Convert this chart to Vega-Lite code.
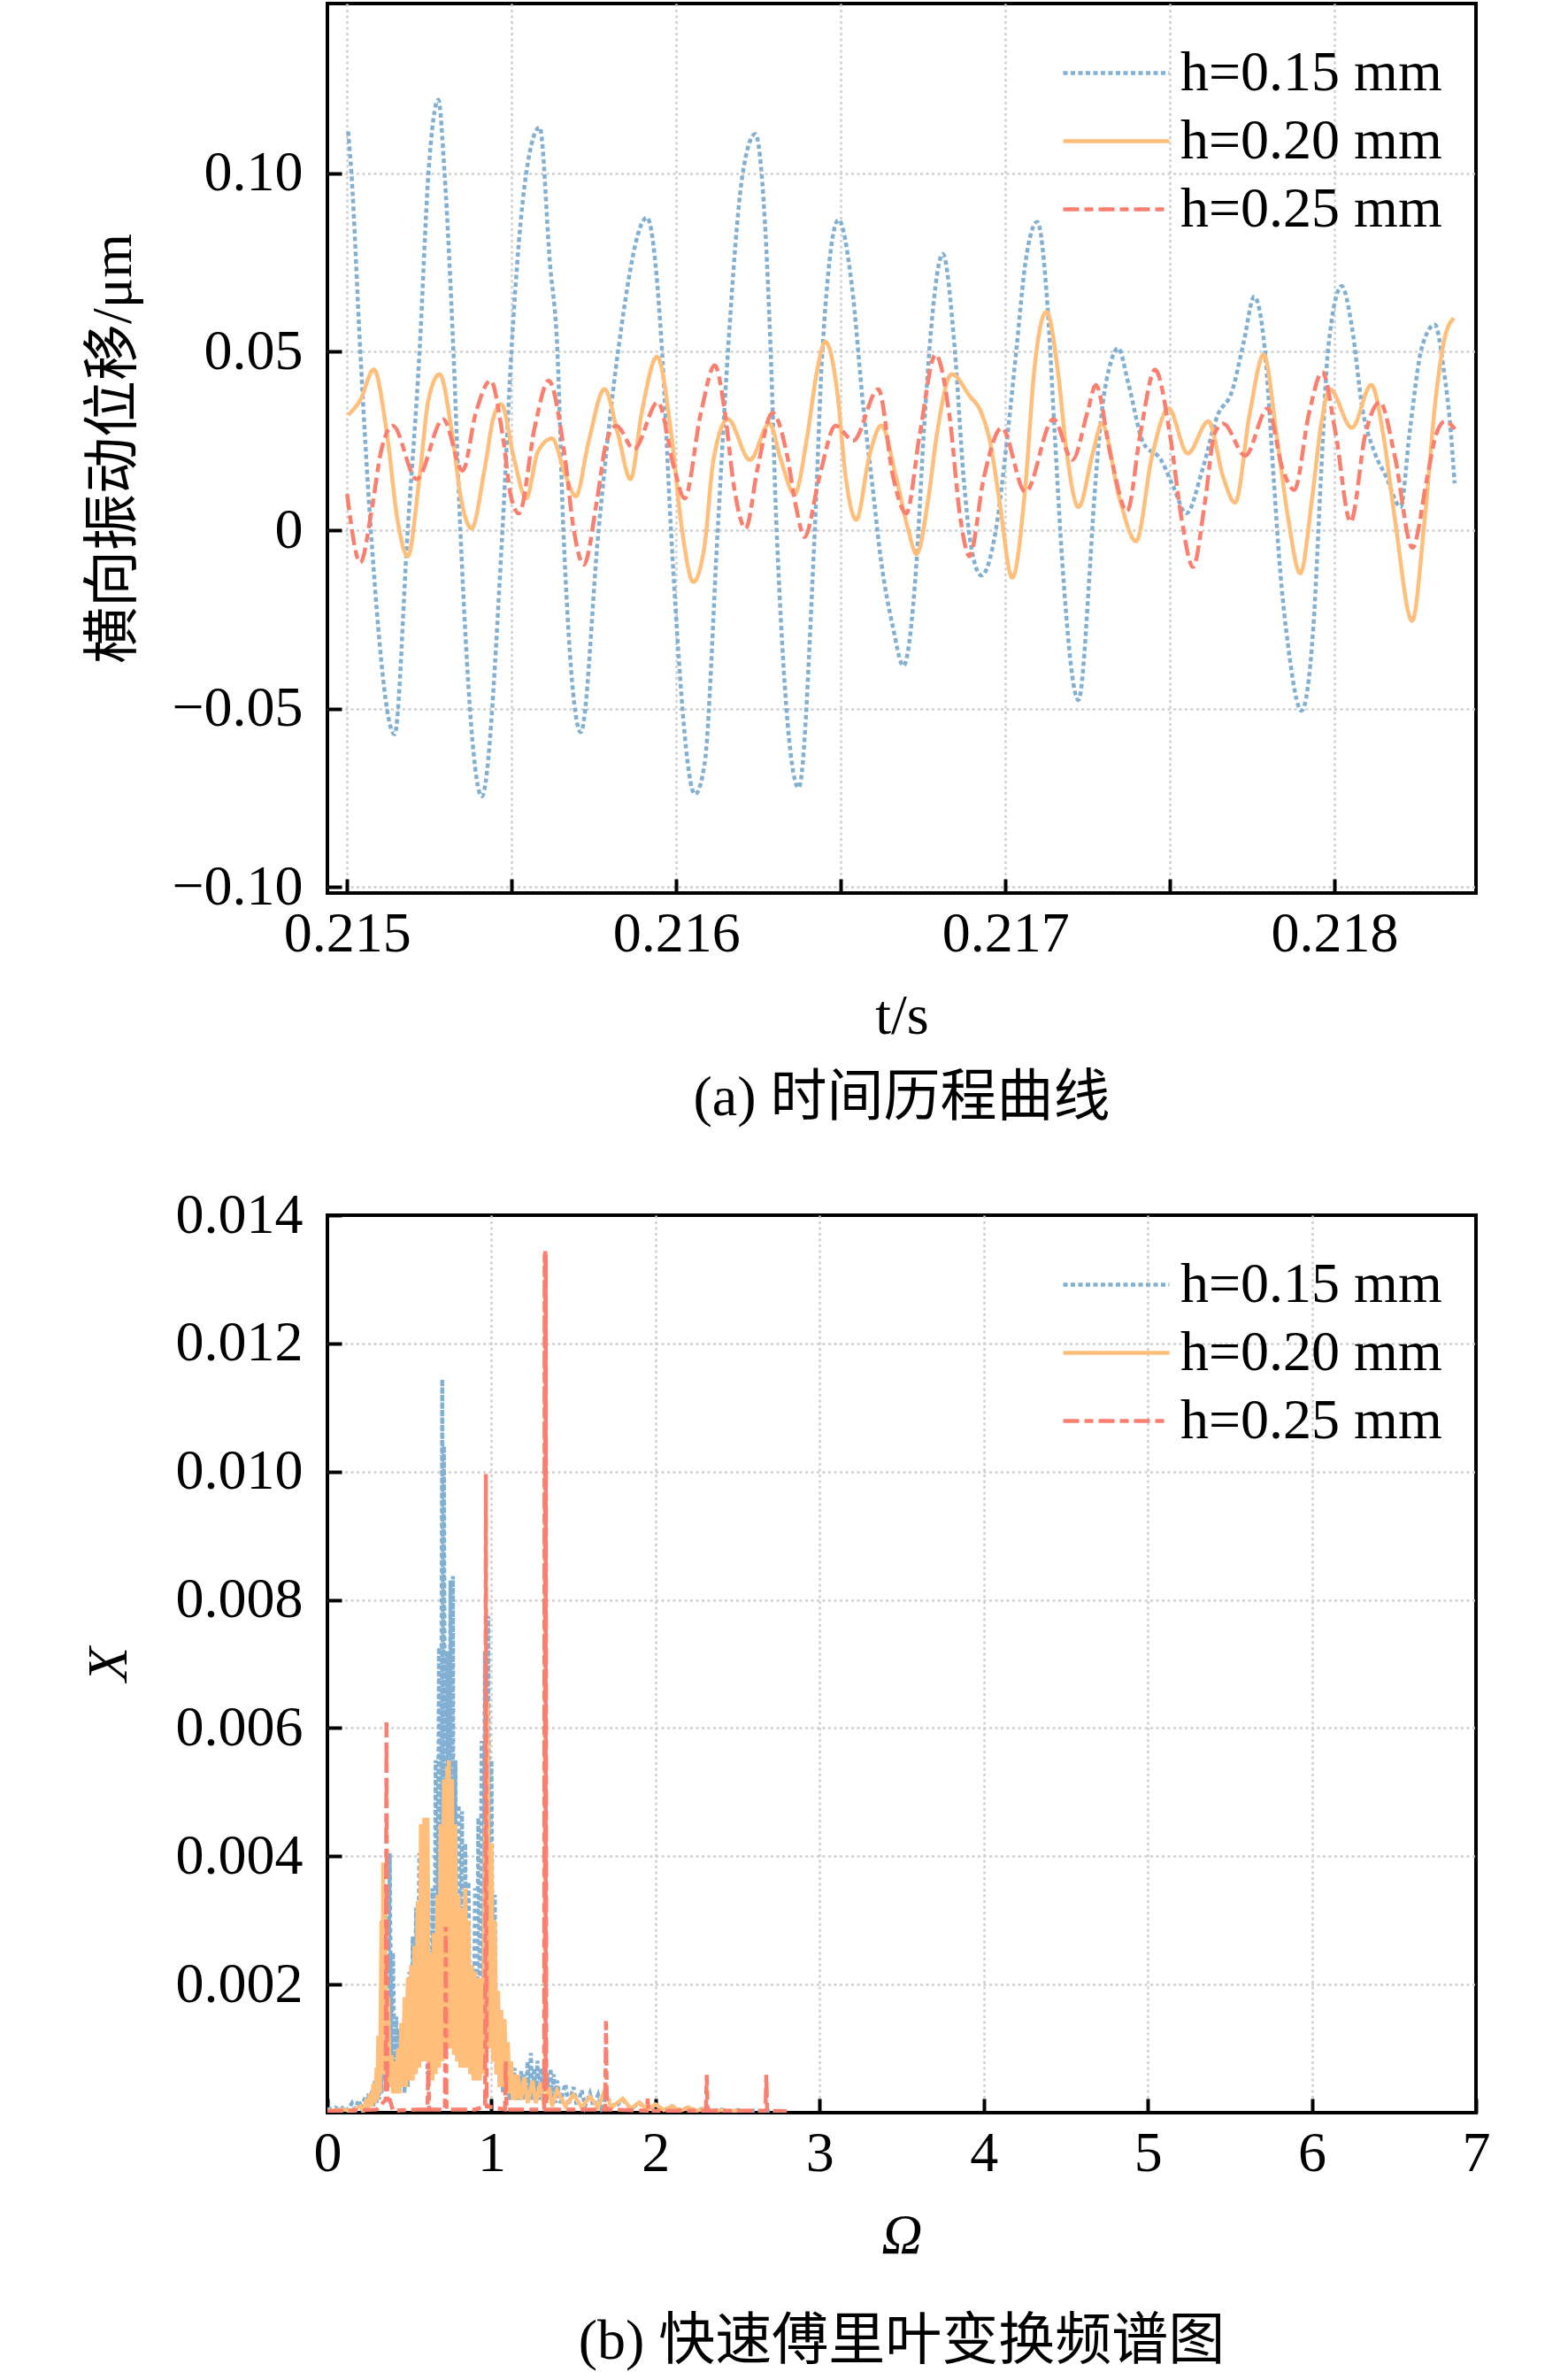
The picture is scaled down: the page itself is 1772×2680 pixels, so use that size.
{
  "$schema": "https://vega.github.io/schema/vega-lite/v6.json",
  "background": "white",
  "padding": {"left": 89, "top": 2, "right": 100, "bottom": 20},
  "spacing": 64,
  "config": {
    "font": "Liberation Serif, Noto Sans CJK SC",
    "view": {"stroke": "black", "strokeWidth": 4},
    "axis": {
      "domain": false,
      "labelFont": "Liberation Serif",
      "labelFontSize": 64,
      "labelColor": "black",
      "labelFlush": false,
      "labelOverlap": false,
      "titleFont": "Liberation Serif, Noto Sans CJK SC",
      "titleFontSize": 64,
      "titleFontWeight": "normal",
      "titleColor": "black",
      "tickColor": "black",
      "tickWidth": 4,
      "tickSize": -16,
      "gridColor": "#cfcfcf",
      "gridWidth": 2.5,
      "gridDash": [3, 3.5]
    },
    "axisX": {"labelPadding": 30, "titlePadding": 29},
    "axisY": {"labelPadding": 44},
    "legend": {
      "orient": "none",
      "legendX": 831,
      "legendY": 46,
      "labelFont": "Liberation Serif",
      "labelFontSize": 64,
      "labelColor": "black",
      "labelLimit": 700,
      "labelOffset": 40,
      "rowPadding": 12,
      "padding": 0,
      "symbolType": "M-2,0H2",
      "symbolSize": 3600,
      "symbolOffset": 28,
      "symbolStrokeWidth": 4.5
    },
    "title": {
      "orient": "bottom",
      "anchor": "middle",
      "font": "Liberation Serif, Noto Sans CJK SC",
      "fontSize": 64,
      "fontWeight": "normal",
      "color": "black"
    },
    "line": {"strokeWidth": 4.5, "strokeCap": "butt"}
  },
  "resolve": {
    "scale": {"x": "independent", "y": "independent", "color": "independent", "strokeDash": "independent"},
    "legend": {"color": "independent", "strokeDash": "independent"}
  },
  "datasets": {
    "ts": [
      {"s": "h=0.15 mm", "t": 0.215003, "v": 0.1117},
      {"s": "h=0.15 mm", "t": 0.215013, "v": 0.1},
      {"s": "h=0.15 mm", "t": 0.21504, "v": 0.05},
      {"s": "h=0.15 mm", "t": 0.215072, "v": 0.0},
      {"s": "h=0.15 mm", "t": 0.215144, "v": -0.0572},
      {"s": "h=0.15 mm", "t": 0.215184, "v": 0.0},
      {"s": "h=0.15 mm", "t": 0.21522, "v": 0.05},
      {"s": "h=0.15 mm", "t": 0.215247, "v": 0.1},
      {"s": "h=0.15 mm", "t": 0.215277, "v": 0.1206},
      {"s": "h=0.15 mm", "t": 0.215296, "v": 0.1},
      {"s": "h=0.15 mm", "t": 0.215323, "v": 0.05},
      {"s": "h=0.15 mm", "t": 0.215344, "v": 0.0},
      {"s": "h=0.15 mm", "t": 0.215409, "v": -0.0746},
      {"s": "h=0.15 mm", "t": 0.215472, "v": 0.0},
      {"s": "h=0.15 mm", "t": 0.215499, "v": 0.05},
      {"s": "h=0.15 mm", "t": 0.215544, "v": 0.1},
      {"s": "h=0.15 mm", "t": 0.215585, "v": 0.1129},
      {"s": "h=0.15 mm", "t": 0.215616, "v": 0.075},
      {"s": "h=0.15 mm", "t": 0.215639, "v": 0.05},
      {"s": "h=0.15 mm", "t": 0.215657, "v": 0.0},
      {"s": "h=0.15 mm", "t": 0.21571, "v": -0.0566},
      {"s": "h=0.15 mm", "t": 0.215764, "v": 0.0},
      {"s": "h=0.15 mm", "t": 0.215823, "v": 0.05},
      {"s": "h=0.15 mm", "t": 0.215911, "v": 0.0876},
      {"s": "h=0.15 mm", "t": 0.215957, "v": 0.05},
      {"s": "h=0.15 mm", "t": 0.215984, "v": 0.0},
      {"s": "h=0.15 mm", "t": 0.216057, "v": -0.074},
      {"s": "h=0.15 mm", "t": 0.216086, "v": -0.0656},
      {"s": "h=0.15 mm", "t": 0.216126, "v": 0.0},
      {"s": "h=0.15 mm", "t": 0.216157, "v": 0.05},
      {"s": "h=0.15 mm", "t": 0.216202, "v": 0.1},
      {"s": "h=0.15 mm", "t": 0.21624, "v": 0.111},
      {"s": "h=0.15 mm", "t": 0.216269, "v": 0.087},
      {"s": "h=0.15 mm", "t": 0.216287, "v": 0.05},
      {"s": "h=0.15 mm", "t": 0.216305, "v": 0.0},
      {"s": "h=0.15 mm", "t": 0.216372, "v": -0.0722},
      {"s": "h=0.15 mm", "t": 0.216421, "v": 0.0},
      {"s": "h=0.15 mm", "t": 0.216444, "v": 0.05},
      {"s": "h=0.15 mm", "t": 0.216493, "v": 0.087},
      {"s": "h=0.15 mm", "t": 0.216533, "v": 0.069},
      {"s": "h=0.15 mm", "t": 0.216569, "v": 0.034},
      {"s": "h=0.15 mm", "t": 0.216596, "v": 0.0125},
      {"s": "h=0.15 mm", "t": 0.216623, "v": -0.009},
      {"s": "h=0.15 mm", "t": 0.216658, "v": -0.027},
      {"s": "h=0.15 mm", "t": 0.21669, "v": -0.038},
      {"s": "h=0.15 mm", "t": 0.21673, "v": -0.009},
      {"s": "h=0.15 mm", "t": 0.216752, "v": 0.027},
      {"s": "h=0.15 mm", "t": 0.216775, "v": 0.057},
      {"s": "h=0.15 mm", "t": 0.21681, "v": 0.0774},
      {"s": "h=0.15 mm", "t": 0.216846, "v": 0.051},
      {"s": "h=0.15 mm", "t": 0.216873, "v": 0.015},
      {"s": "h=0.15 mm", "t": 0.216895, "v": -0.004},
      {"s": "h=0.15 mm", "t": 0.216927, "v": -0.0127},
      {"s": "h=0.15 mm", "t": 0.216971, "v": 0.0},
      {"s": "h=0.15 mm", "t": 0.217007, "v": 0.027},
      {"s": "h=0.15 mm", "t": 0.217034, "v": 0.051},
      {"s": "h=0.15 mm", "t": 0.217061, "v": 0.075},
      {"s": "h=0.15 mm", "t": 0.217097, "v": 0.0864},
      {"s": "h=0.15 mm", "t": 0.217128, "v": 0.063},
      {"s": "h=0.15 mm", "t": 0.21715, "v": 0.027},
      {"s": "h=0.15 mm", "t": 0.217173, "v": -0.009},
      {"s": "h=0.15 mm", "t": 0.217222, "v": -0.0476},
      {"s": "h=0.15 mm", "t": 0.217258, "v": -0.009},
      {"s": "h=0.15 mm", "t": 0.217266, "v": 0.003},
      {"s": "h=0.15 mm", "t": 0.217293, "v": 0.033},
      {"s": "h=0.15 mm", "t": 0.21732, "v": 0.047},
      {"s": "h=0.15 mm", "t": 0.217343, "v": 0.051},
      {"s": "h=0.15 mm", "t": 0.217374, "v": 0.041},
      {"s": "h=0.15 mm", "t": 0.217419, "v": 0.0245},
      {"s": "h=0.15 mm", "t": 0.217473, "v": 0.0197},
      {"s": "h=0.15 mm", "t": 0.217509, "v": 0.0125},
      {"s": "h=0.15 mm", "t": 0.21755, "v": 0.0047},
      {"s": "h=0.15 mm", "t": 0.217599, "v": 0.017},
      {"s": "h=0.15 mm", "t": 0.217644, "v": 0.032},
      {"s": "h=0.15 mm", "t": 0.217689, "v": 0.039},
      {"s": "h=0.15 mm", "t": 0.217725, "v": 0.053},
      {"s": "h=0.15 mm", "t": 0.217756, "v": 0.0654},
      {"s": "h=0.15 mm", "t": 0.217788, "v": 0.051},
      {"s": "h=0.15 mm", "t": 0.217815, "v": 0.015},
      {"s": "h=0.15 mm", "t": 0.217833, "v": -0.009},
      {"s": "h=0.15 mm", "t": 0.21786, "v": -0.033},
      {"s": "h=0.15 mm", "t": 0.2179, "v": -0.0506},
      {"s": "h=0.15 mm", "t": 0.217936, "v": -0.027},
      {"s": "h=0.15 mm", "t": 0.217959, "v": 0.015},
      {"s": "h=0.15 mm", "t": 0.217981, "v": 0.051},
      {"s": "h=0.15 mm", "t": 0.218022, "v": 0.0684},
      {"s": "h=0.15 mm", "t": 0.218053, "v": 0.057},
      {"s": "h=0.15 mm", "t": 0.218085, "v": 0.034},
      {"s": "h=0.15 mm", "t": 0.218121, "v": 0.022},
      {"s": "h=0.15 mm", "t": 0.218157, "v": 0.015},
      {"s": "h=0.15 mm", "t": 0.218201, "v": 0.0065},
      {"s": "h=0.15 mm", "t": 0.218228, "v": 0.027},
      {"s": "h=0.15 mm", "t": 0.218265, "v": 0.051},
      {"s": "h=0.15 mm", "t": 0.218305, "v": 0.0576},
      {"s": "h=0.15 mm", "t": 0.218332, "v": 0.045},
      {"s": "h=0.15 mm", "t": 0.218354, "v": 0.027},
      {"s": "h=0.15 mm", "t": 0.218365, "v": 0.0131},

      {"s": "h=0.20 mm", "t": 0.215003, "v": 0.0323},
      {"s": "h=0.20 mm", "t": 0.21504, "v": 0.0365},
      {"s": "h=0.20 mm", "t": 0.215081, "v": 0.045},
      {"s": "h=0.20 mm", "t": 0.215121, "v": 0.0269},
      {"s": "h=0.20 mm", "t": 0.215153, "v": 0.0029},
      {"s": "h=0.20 mm", "t": 0.215184, "v": -0.0073},
      {"s": "h=0.20 mm", "t": 0.21522, "v": 0.0149},
      {"s": "h=0.20 mm", "t": 0.215247, "v": 0.0365},
      {"s": "h=0.20 mm", "t": 0.215281, "v": 0.0437},
      {"s": "h=0.20 mm", "t": 0.215319, "v": 0.0269},
      {"s": "h=0.20 mm", "t": 0.215346, "v": 0.0089},
      {"s": "h=0.20 mm", "t": 0.215378, "v": 0.0005},
      {"s": "h=0.20 mm", "t": 0.215418, "v": 0.0173},
      {"s": "h=0.20 mm", "t": 0.215445, "v": 0.0317},
      {"s": "h=0.20 mm", "t": 0.215468, "v": 0.0353},
      {"s": "h=0.20 mm", "t": 0.215508, "v": 0.0197},
      {"s": "h=0.20 mm", "t": 0.215544, "v": 0.0089},
      {"s": "h=0.20 mm", "t": 0.21558, "v": 0.0221},
      {"s": "h=0.20 mm", "t": 0.215623, "v": 0.0257},
      {"s": "h=0.20 mm", "t": 0.215661, "v": 0.0161},
      {"s": "h=0.20 mm", "t": 0.215695, "v": 0.0095},
      {"s": "h=0.20 mm", "t": 0.215733, "v": 0.0245},
      {"s": "h=0.20 mm", "t": 0.215782, "v": 0.0395},
      {"s": "h=0.20 mm", "t": 0.215823, "v": 0.0269},
      {"s": "h=0.20 mm", "t": 0.215861, "v": 0.0143},
      {"s": "h=0.20 mm", "t": 0.215895, "v": 0.0329},
      {"s": "h=0.20 mm", "t": 0.215942, "v": 0.0486},
      {"s": "h=0.20 mm", "t": 0.215985, "v": 0.0269},
      {"s": "h=0.20 mm", "t": 0.216017, "v": 0.0005},
      {"s": "h=0.20 mm", "t": 0.216052, "v": -0.0145},
      {"s": "h=0.20 mm", "t": 0.216086, "v": -0.0043},
      {"s": "h=0.20 mm", "t": 0.216113, "v": 0.0197},
      {"s": "h=0.20 mm", "t": 0.216157, "v": 0.0311},
      {"s": "h=0.20 mm", "t": 0.216224, "v": 0.0197},
      {"s": "h=0.20 mm", "t": 0.216283, "v": 0.0299},
      {"s": "h=0.20 mm", "t": 0.216318, "v": 0.0197},
      {"s": "h=0.20 mm", "t": 0.216359, "v": 0.0101},
      {"s": "h=0.20 mm", "t": 0.216399, "v": 0.0269},
      {"s": "h=0.20 mm", "t": 0.216426, "v": 0.0437},
      {"s": "h=0.20 mm", "t": 0.216453, "v": 0.0528},
      {"s": "h=0.20 mm", "t": 0.216489, "v": 0.0389},
      {"s": "h=0.20 mm", "t": 0.216515, "v": 0.0149},
      {"s": "h=0.20 mm", "t": 0.216547, "v": 0.0029},
      {"s": "h=0.20 mm", "t": 0.216587, "v": 0.0209},
      {"s": "h=0.20 mm", "t": 0.216623, "v": 0.0293},
      {"s": "h=0.20 mm", "t": 0.216668, "v": 0.0149},
      {"s": "h=0.20 mm", "t": 0.216704, "v": 0.0005},
      {"s": "h=0.20 mm", "t": 0.21673, "v": -0.0067},
      {"s": "h=0.20 mm", "t": 0.216766, "v": 0.0089},
      {"s": "h=0.20 mm", "t": 0.216792, "v": 0.0269},
      {"s": "h=0.20 mm", "t": 0.216837, "v": 0.0437},
      {"s": "h=0.20 mm", "t": 0.216891, "v": 0.0377},
      {"s": "h=0.20 mm", "t": 0.216927, "v": 0.0329},
      {"s": "h=0.20 mm", "t": 0.216954, "v": 0.0245},
      {"s": "h=0.20 mm", "t": 0.216981, "v": 0.0089},
      {"s": "h=0.20 mm", "t": 0.217021, "v": -0.0133},
      {"s": "h=0.20 mm", "t": 0.217061, "v": 0.0125},
      {"s": "h=0.20 mm", "t": 0.217088, "v": 0.045},
      {"s": "h=0.20 mm", "t": 0.217125, "v": 0.0612},
      {"s": "h=0.20 mm", "t": 0.217159, "v": 0.045},
      {"s": "h=0.20 mm", "t": 0.217186, "v": 0.0221},
      {"s": "h=0.20 mm", "t": 0.217222, "v": 0.0065},
      {"s": "h=0.20 mm", "t": 0.217267, "v": 0.0221},
      {"s": "h=0.20 mm", "t": 0.217293, "v": 0.0299},
      {"s": "h=0.20 mm", "t": 0.217347, "v": 0.0089},
      {"s": "h=0.20 mm", "t": 0.217397, "v": -0.0031},
      {"s": "h=0.20 mm", "t": 0.217446, "v": 0.0209},
      {"s": "h=0.20 mm", "t": 0.217496, "v": 0.0341},
      {"s": "h=0.20 mm", "t": 0.217554, "v": 0.0215},
      {"s": "h=0.20 mm", "t": 0.217617, "v": 0.0305},
      {"s": "h=0.20 mm", "t": 0.217662, "v": 0.0149},
      {"s": "h=0.20 mm", "t": 0.217698, "v": 0.0077},
      {"s": "h=0.20 mm", "t": 0.217743, "v": 0.0329},
      {"s": "h=0.20 mm", "t": 0.217785, "v": 0.0492},
      {"s": "h=0.20 mm", "t": 0.217824, "v": 0.0269},
      {"s": "h=0.20 mm", "t": 0.21786, "v": 0.0029},
      {"s": "h=0.20 mm", "t": 0.217896, "v": -0.0121},
      {"s": "h=0.20 mm", "t": 0.217932, "v": 0.0089},
      {"s": "h=0.20 mm", "t": 0.217959, "v": 0.0293},
      {"s": "h=0.20 mm", "t": 0.217986, "v": 0.0395},
      {"s": "h=0.20 mm", "t": 0.218053, "v": 0.0287},
      {"s": "h=0.20 mm", "t": 0.218112, "v": 0.0407},
      {"s": "h=0.20 mm", "t": 0.218148, "v": 0.0269},
      {"s": "h=0.20 mm", "t": 0.218184, "v": 0.0029},
      {"s": "h=0.20 mm", "t": 0.218236, "v": -0.0254},
      {"s": "h=0.20 mm", "t": 0.218274, "v": 0.0029},
      {"s": "h=0.20 mm", "t": 0.21831, "v": 0.0389},
      {"s": "h=0.20 mm", "t": 0.218337, "v": 0.0546},
      {"s": "h=0.20 mm", "t": 0.218363, "v": 0.0594},

      {"s": "h=0.25 mm", "t": 0.215, "v": 0.0101},
      {"s": "h=0.25 mm", "t": 0.21504, "v": -0.0091},
      {"s": "h=0.25 mm", "t": 0.215076, "v": 0.0065},
      {"s": "h=0.25 mm", "t": 0.215103, "v": 0.0221},
      {"s": "h=0.25 mm", "t": 0.215139, "v": 0.0293},
      {"s": "h=0.25 mm", "t": 0.215211, "v": 0.0143},
      {"s": "h=0.25 mm", "t": 0.215292, "v": 0.0311},
      {"s": "h=0.25 mm", "t": 0.215351, "v": 0.0167},
      {"s": "h=0.25 mm", "t": 0.215391, "v": 0.0329},
      {"s": "h=0.25 mm", "t": 0.215436, "v": 0.0419},
      {"s": "h=0.25 mm", "t": 0.215472, "v": 0.0269},
      {"s": "h=0.25 mm", "t": 0.215499, "v": 0.0089},
      {"s": "h=0.25 mm", "t": 0.215522, "v": 0.0047},
      {"s": "h=0.25 mm", "t": 0.215571, "v": 0.0293},
      {"s": "h=0.25 mm", "t": 0.215612, "v": 0.0419},
      {"s": "h=0.25 mm", "t": 0.215661, "v": 0.0209},
      {"s": "h=0.25 mm", "t": 0.215688, "v": 0.0005},
      {"s": "h=0.25 mm", "t": 0.215719, "v": -0.0097},
      {"s": "h=0.25 mm", "t": 0.21576, "v": 0.0089},
      {"s": "h=0.25 mm", "t": 0.215787, "v": 0.0245},
      {"s": "h=0.25 mm", "t": 0.215818, "v": 0.0293},
      {"s": "h=0.25 mm", "t": 0.215872, "v": 0.0227},
      {"s": "h=0.25 mm", "t": 0.215944, "v": 0.0359},
      {"s": "h=0.25 mm", "t": 0.215994, "v": 0.0173},
      {"s": "h=0.25 mm", "t": 0.216025, "v": 0.0089},
      {"s": "h=0.25 mm", "t": 0.216075, "v": 0.0329},
      {"s": "h=0.25 mm", "t": 0.216117, "v": 0.0462},
      {"s": "h=0.25 mm", "t": 0.216148, "v": 0.0329},
      {"s": "h=0.25 mm", "t": 0.216175, "v": 0.0125},
      {"s": "h=0.25 mm", "t": 0.216211, "v": 0.0005},
      {"s": "h=0.25 mm", "t": 0.216247, "v": 0.0173},
      {"s": "h=0.25 mm", "t": 0.216292, "v": 0.0329},
      {"s": "h=0.25 mm", "t": 0.216337, "v": 0.0209},
      {"s": "h=0.25 mm", "t": 0.216364, "v": 0.0065},
      {"s": "h=0.25 mm", "t": 0.21639, "v": -0.0019},
      {"s": "h=0.25 mm", "t": 0.216435, "v": 0.0149},
      {"s": "h=0.25 mm", "t": 0.216484, "v": 0.0293},
      {"s": "h=0.25 mm", "t": 0.216538, "v": 0.0251},
      {"s": "h=0.25 mm", "t": 0.216614, "v": 0.0395},
      {"s": "h=0.25 mm", "t": 0.216659, "v": 0.0149},
      {"s": "h=0.25 mm", "t": 0.216699, "v": 0.0047},
      {"s": "h=0.25 mm", "t": 0.21674, "v": 0.0269},
      {"s": "h=0.25 mm", "t": 0.216788, "v": 0.0492},
      {"s": "h=0.25 mm", "t": 0.216829, "v": 0.0329},
      {"s": "h=0.25 mm", "t": 0.216864, "v": 0.0029},
      {"s": "h=0.25 mm", "t": 0.216891, "v": -0.0073},
      {"s": "h=0.25 mm", "t": 0.216935, "v": 0.0149},
      {"s": "h=0.25 mm", "t": 0.216989, "v": 0.0287},
      {"s": "h=0.25 mm", "t": 0.217061, "v": 0.0107},
      {"s": "h=0.25 mm", "t": 0.217146, "v": 0.0311},
      {"s": "h=0.25 mm", "t": 0.217204, "v": 0.0197},
      {"s": "h=0.25 mm", "t": 0.217249, "v": 0.0329},
      {"s": "h=0.25 mm", "t": 0.217275, "v": 0.0407},
      {"s": "h=0.25 mm", "t": 0.21732, "v": 0.0209},
      {"s": "h=0.25 mm", "t": 0.21737, "v": 0.0053},
      {"s": "h=0.25 mm", "t": 0.21741, "v": 0.0269},
      {"s": "h=0.25 mm", "t": 0.217455, "v": 0.045},
      {"s": "h=0.25 mm", "t": 0.2175, "v": 0.0269},
      {"s": "h=0.25 mm", "t": 0.217536, "v": 0.0029},
      {"s": "h=0.25 mm", "t": 0.21757, "v": -0.0103},
      {"s": "h=0.25 mm", "t": 0.217608, "v": 0.0089},
      {"s": "h=0.25 mm", "t": 0.217635, "v": 0.0269},
      {"s": "h=0.25 mm", "t": 0.217662, "v": 0.0299},
      {"s": "h=0.25 mm", "t": 0.217729, "v": 0.0209},
      {"s": "h=0.25 mm", "t": 0.217797, "v": 0.0341},
      {"s": "h=0.25 mm", "t": 0.217842, "v": 0.0173},
      {"s": "h=0.25 mm", "t": 0.217878, "v": 0.0113},
      {"s": "h=0.25 mm", "t": 0.217923, "v": 0.0329},
      {"s": "h=0.25 mm", "t": 0.217963, "v": 0.0443},
      {"s": "h=0.25 mm", "t": 0.218004, "v": 0.0269},
      {"s": "h=0.25 mm", "t": 0.218049, "v": 0.0023},
      {"s": "h=0.25 mm", "t": 0.218094, "v": 0.0269},
      {"s": "h=0.25 mm", "t": 0.218138, "v": 0.0359},
      {"s": "h=0.25 mm", "t": 0.218183, "v": 0.0209},
      {"s": "h=0.25 mm", "t": 0.218237, "v": -0.0049},
      {"s": "h=0.25 mm", "t": 0.218282, "v": 0.0149},
      {"s": "h=0.25 mm", "t": 0.218309, "v": 0.0269},
      {"s": "h=0.25 mm", "t": 0.218336, "v": 0.0305},
      {"s": "h=0.25 mm", "t": 0.218368, "v": 0.0281}
    ],
    "fft": [
      {"s": "h=0.15 mm", "o": 0.0, "v": 0.00005},
      {"s": "h=0.15 mm", "o": 0.05, "v": 0.00008},
      {"s": "h=0.15 mm", "o": 0.075, "v": 0.00003},
      {"s": "h=0.15 mm", "o": 0.1, "v": 0.0001},
      {"s": "h=0.15 mm", "o": 0.125, "v": 0.00004},
      {"s": "h=0.15 mm", "o": 0.15, "v": 0.00015},
      {"s": "h=0.15 mm", "o": 0.17, "v": 0.00005},
      {"s": "h=0.15 mm", "o": 0.19, "v": 0.0002},
      {"s": "h=0.15 mm", "o": 0.21, "v": 0.00006},
      {"s": "h=0.15 mm", "o": 0.23, "v": 0.00025},
      {"s": "h=0.15 mm", "o": 0.24, "v": 0.00008},
      {"s": "h=0.15 mm", "o": 0.25, "v": 0.0003},
      {"s": "h=0.15 mm", "o": 0.26, "v": 0.0001},
      {"s": "h=0.15 mm", "o": 0.27, "v": 0.00035},
      {"s": "h=0.15 mm", "o": 0.28, "v": 0.0001},
      {"s": "h=0.15 mm", "o": 0.29, "v": 0.0005},
      {"s": "h=0.15 mm", "o": 0.3, "v": 0.00015},
      {"s": "h=0.15 mm", "o": 0.31, "v": 0.0007},
      {"s": "h=0.15 mm", "o": 0.315, "v": 0.0002},
      {"s": "h=0.15 mm", "o": 0.32, "v": 0.00084},
      {"s": "h=0.15 mm", "o": 0.33, "v": 0.0003},
      {"s": "h=0.15 mm", "o": 0.34, "v": 0.002},
      {"s": "h=0.15 mm", "o": 0.35, "v": 0.0005},
      {"s": "h=0.15 mm", "o": 0.36, "v": 0.0035},
      {"s": "h=0.15 mm", "o": 0.37, "v": 0.0008},
      {"s": "h=0.15 mm", "o": 0.38, "v": 0.00405},
      {"s": "h=0.15 mm", "o": 0.39, "v": 0.0007},
      {"s": "h=0.15 mm", "o": 0.4, "v": 0.0025},
      {"s": "h=0.15 mm", "o": 0.41, "v": 0.0005},
      {"s": "h=0.15 mm", "o": 0.42, "v": 0.0015},
      {"s": "h=0.15 mm", "o": 0.43, "v": 0.0004},
      {"s": "h=0.15 mm", "o": 0.44, "v": 0.0013},
      {"s": "h=0.15 mm", "o": 0.45, "v": 0.0004},
      {"s": "h=0.15 mm", "o": 0.46, "v": 0.0012},
      {"s": "h=0.15 mm", "o": 0.47, "v": 0.0003},
      {"s": "h=0.15 mm", "o": 0.48, "v": 0.0016},
      {"s": "h=0.15 mm", "o": 0.49, "v": 0.0004},
      {"s": "h=0.15 mm", "o": 0.5, "v": 0.0022},
      {"s": "h=0.15 mm", "o": 0.51, "v": 0.0005},
      {"s": "h=0.15 mm", "o": 0.52, "v": 0.00275},
      {"s": "h=0.15 mm", "o": 0.53, "v": 0.0006},
      {"s": "h=0.15 mm", "o": 0.54, "v": 0.0032},
      {"s": "h=0.15 mm", "o": 0.55, "v": 0.0007},
      {"s": "h=0.15 mm", "o": 0.56, "v": 0.00405},
      {"s": "h=0.15 mm", "o": 0.57, "v": 0.0008},
      {"s": "h=0.15 mm", "o": 0.58, "v": 0.0038},
      {"s": "h=0.15 mm", "o": 0.59, "v": 0.0008},
      {"s": "h=0.15 mm", "o": 0.6, "v": 0.003},
      {"s": "h=0.15 mm", "o": 0.61, "v": 0.0006},
      {"s": "h=0.15 mm", "o": 0.62, "v": 0.0026},
      {"s": "h=0.15 mm", "o": 0.63, "v": 0.0006},
      {"s": "h=0.15 mm", "o": 0.64, "v": 0.0035},
      {"s": "h=0.15 mm", "o": 0.65, "v": 0.0008},
      {"s": "h=0.15 mm", "o": 0.66, "v": 0.0055},
      {"s": "h=0.15 mm", "o": 0.67, "v": 0.001},
      {"s": "h=0.15 mm", "o": 0.68, "v": 0.00726},
      {"s": "h=0.15 mm", "o": 0.69, "v": 0.0015},
      {"s": "h=0.15 mm", "o": 0.7, "v": 0.01144},
      {"s": "h=0.15 mm", "o": 0.705, "v": 0.002},
      {"s": "h=0.15 mm", "o": 0.71, "v": 0.0104},
      {"s": "h=0.15 mm", "o": 0.72, "v": 0.002},
      {"s": "h=0.15 mm", "o": 0.73, "v": 0.0072},
      {"s": "h=0.15 mm", "o": 0.74, "v": 0.0015},
      {"s": "h=0.15 mm", "o": 0.75, "v": 0.0083},
      {"s": "h=0.15 mm", "o": 0.76, "v": 0.0018},
      {"s": "h=0.15 mm", "o": 0.765, "v": 0.00837},
      {"s": "h=0.15 mm", "o": 0.77, "v": 0.0015},
      {"s": "h=0.15 mm", "o": 0.78, "v": 0.0055},
      {"s": "h=0.15 mm", "o": 0.79, "v": 0.001},
      {"s": "h=0.15 mm", "o": 0.8, "v": 0.0048},
      {"s": "h=0.15 mm", "o": 0.81, "v": 0.0009},
      {"s": "h=0.15 mm", "o": 0.82, "v": 0.0047},
      {"s": "h=0.15 mm", "o": 0.83, "v": 0.0009},
      {"s": "h=0.15 mm", "o": 0.84, "v": 0.0042},
      {"s": "h=0.15 mm", "o": 0.85, "v": 0.0008},
      {"s": "h=0.15 mm", "o": 0.86, "v": 0.0036},
      {"s": "h=0.15 mm", "o": 0.87, "v": 0.0007},
      {"s": "h=0.15 mm", "o": 0.88, "v": 0.0023},
      {"s": "h=0.15 mm", "o": 0.89, "v": 0.0006},
      {"s": "h=0.15 mm", "o": 0.9, "v": 0.0035},
      {"s": "h=0.15 mm", "o": 0.91, "v": 0.0008},
      {"s": "h=0.15 mm", "o": 0.92, "v": 0.0046},
      {"s": "h=0.15 mm", "o": 0.93, "v": 0.001},
      {"s": "h=0.15 mm", "o": 0.94, "v": 0.0058},
      {"s": "h=0.15 mm", "o": 0.95, "v": 0.0012},
      {"s": "h=0.15 mm", "o": 0.96, "v": 0.0072},
      {"s": "h=0.15 mm", "o": 0.97, "v": 0.0015},
      {"s": "h=0.15 mm", "o": 0.98, "v": 0.00775},
      {"s": "h=0.15 mm", "o": 0.99, "v": 0.0012},
      {"s": "h=0.15 mm", "o": 1.0, "v": 0.0055},
      {"s": "h=0.15 mm", "o": 1.01, "v": 0.0009},
      {"s": "h=0.15 mm", "o": 1.02, "v": 0.0034},
      {"s": "h=0.15 mm", "o": 1.03, "v": 0.0006},
      {"s": "h=0.15 mm", "o": 1.04, "v": 0.0018},
      {"s": "h=0.15 mm", "o": 1.05, "v": 0.0004},
      {"s": "h=0.15 mm", "o": 1.06, "v": 0.0012},
      {"s": "h=0.15 mm", "o": 1.07, "v": 0.0003},
      {"s": "h=0.15 mm", "o": 1.08, "v": 0.0008},
      {"s": "h=0.15 mm", "o": 1.09, "v": 0.0002},
      {"s": "h=0.15 mm", "o": 1.1, "v": 0.0006},
      {"s": "h=0.15 mm", "o": 1.11, "v": 0.0002},
      {"s": "h=0.15 mm", "o": 1.12, "v": 0.0006},
      {"s": "h=0.15 mm", "o": 1.13, "v": 0.0002},
      {"s": "h=0.15 mm", "o": 1.14, "v": 0.0007},
      {"s": "h=0.15 mm", "o": 1.15, "v": 0.0002},
      {"s": "h=0.15 mm", "o": 1.16, "v": 0.0006},
      {"s": "h=0.15 mm", "o": 1.17, "v": 0.0002},
      {"s": "h=0.15 mm", "o": 1.18, "v": 0.00065},
      {"s": "h=0.15 mm", "o": 1.19, "v": 0.0002},
      {"s": "h=0.15 mm", "o": 1.2, "v": 0.0006},
      {"s": "h=0.15 mm", "o": 1.21, "v": 0.0002},
      {"s": "h=0.15 mm", "o": 1.22, "v": 0.0008},
      {"s": "h=0.15 mm", "o": 1.23, "v": 0.0002},
      {"s": "h=0.15 mm", "o": 1.24, "v": 0.00093},
      {"s": "h=0.15 mm", "o": 1.25, "v": 0.0002},
      {"s": "h=0.15 mm", "o": 1.26, "v": 0.0007},
      {"s": "h=0.15 mm", "o": 1.27, "v": 0.0002},
      {"s": "h=0.15 mm", "o": 1.28, "v": 0.00081},
      {"s": "h=0.15 mm", "o": 1.29, "v": 0.0002},
      {"s": "h=0.15 mm", "o": 1.3, "v": 0.0007},
      {"s": "h=0.15 mm", "o": 1.31, "v": 0.0002},
      {"s": "h=0.15 mm", "o": 1.32, "v": 0.0006},
      {"s": "h=0.15 mm", "o": 1.33, "v": 0.0002},
      {"s": "h=0.15 mm", "o": 1.34, "v": 0.0006},
      {"s": "h=0.15 mm", "o": 1.35, "v": 0.0002},
      {"s": "h=0.15 mm", "o": 1.36, "v": 0.00069},
      {"s": "h=0.15 mm", "o": 1.37, "v": 0.0002},
      {"s": "h=0.15 mm", "o": 1.38, "v": 0.0006},
      {"s": "h=0.15 mm", "o": 1.39, "v": 0.00015},
      {"s": "h=0.15 mm", "o": 1.4, "v": 0.0005},
      {"s": "h=0.15 mm", "o": 1.42, "v": 0.00015},
      {"s": "h=0.15 mm", "o": 1.45, "v": 0.00045},
      {"s": "h=0.15 mm", "o": 1.47, "v": 0.00012},
      {"s": "h=0.15 mm", "o": 1.5, "v": 0.0004},
      {"s": "h=0.15 mm", "o": 1.52, "v": 0.0001},
      {"s": "h=0.15 mm", "o": 1.55, "v": 0.00035},
      {"s": "h=0.15 mm", "o": 1.57, "v": 0.0001},
      {"s": "h=0.15 mm", "o": 1.6, "v": 0.0003},
      {"s": "h=0.15 mm", "o": 1.62, "v": 0.0001},
      {"s": "h=0.15 mm", "o": 1.65, "v": 0.00028},
      {"s": "h=0.15 mm", "o": 1.67, "v": 0.00008},
      {"s": "h=0.15 mm", "o": 1.7, "v": 0.00025},
      {"s": "h=0.15 mm", "o": 1.75, "v": 0.00008},
      {"s": "h=0.15 mm", "o": 1.8, "v": 0.0002},
      {"s": "h=0.15 mm", "o": 1.85, "v": 0.00006},
      {"s": "h=0.15 mm", "o": 1.9, "v": 0.00015},
      {"s": "h=0.15 mm", "o": 1.95, "v": 0.00005},
      {"s": "h=0.15 mm", "o": 2.0, "v": 0.00012},
      {"s": "h=0.15 mm", "o": 2.05, "v": 0.00004},
      {"s": "h=0.15 mm", "o": 2.1, "v": 0.0001},
      {"s": "h=0.15 mm", "o": 2.15, "v": 0.00004},
      {"s": "h=0.15 mm", "o": 2.2, "v": 0.00008},
      {"s": "h=0.15 mm", "o": 2.25, "v": 0.00003},
      {"s": "h=0.15 mm", "o": 2.3, "v": 0.00007},
      {"s": "h=0.15 mm", "o": 2.35, "v": 0.00003},
      {"s": "h=0.15 mm", "o": 2.4, "v": 0.00005},
      {"s": "h=0.15 mm", "o": 2.45, "v": 0.00002},
      {"s": "h=0.15 mm", "o": 2.5, "v": 0.00004},
      {"s": "h=0.15 mm", "o": 2.55, "v": 0.00002},
      {"s": "h=0.15 mm", "o": 2.6, "v": 0.00003},
      {"s": "h=0.15 mm", "o": 2.7, "v": 0.00002},
      {"s": "h=0.15 mm", "o": 2.8, "v": 0.00002},

      {"s": "h=0.20 mm", "o": 0.0, "v": 0.00003},
      {"s": "h=0.20 mm", "o": 0.1, "v": 0.00005},
      {"s": "h=0.20 mm", "o": 0.15, "v": 0.00002},
      {"s": "h=0.20 mm", "o": 0.2, "v": 0.0001},
      {"s": "h=0.20 mm", "o": 0.22, "v": 0.00004},
      {"s": "h=0.20 mm", "o": 0.24, "v": 0.00022},
      {"s": "h=0.20 mm", "o": 0.25, "v": 0.00008},
      {"s": "h=0.20 mm", "o": 0.26, "v": 0.0003},
      {"s": "h=0.20 mm", "o": 0.27, "v": 0.0001},
      {"s": "h=0.20 mm", "o": 0.28, "v": 0.00045},
      {"s": "h=0.20 mm", "o": 0.29, "v": 0.00015},
      {"s": "h=0.20 mm", "o": 0.3, "v": 0.0007},
      {"s": "h=0.20 mm", "o": 0.305, "v": 0.0002},
      {"s": "h=0.20 mm", "o": 0.31, "v": 0.0012},
      {"s": "h=0.20 mm", "o": 0.32, "v": 0.0003},
      {"s": "h=0.20 mm", "o": 0.33, "v": 0.003},
      {"s": "h=0.20 mm", "o": 0.335, "v": 0.0006},
      {"s": "h=0.20 mm", "o": 0.34, "v": 0.0039},
      {"s": "h=0.20 mm", "o": 0.345, "v": 0.0008},
      {"s": "h=0.20 mm", "o": 0.35, "v": 0.0035},
      {"s": "h=0.20 mm", "o": 0.36, "v": 0.0006},
      {"s": "h=0.20 mm", "o": 0.37, "v": 0.0018},
      {"s": "h=0.20 mm", "o": 0.38, "v": 0.0004},
      {"s": "h=0.20 mm", "o": 0.39, "v": 0.0009},
      {"s": "h=0.20 mm", "o": 0.4, "v": 0.0003},
      {"s": "h=0.20 mm", "o": 0.41, "v": 0.0008},
      {"s": "h=0.20 mm", "o": 0.42, "v": 0.0003},
      {"s": "h=0.20 mm", "o": 0.43, "v": 0.001},
      {"s": "h=0.20 mm", "o": 0.44, "v": 0.0003},
      {"s": "h=0.20 mm", "o": 0.45, "v": 0.0014},
      {"s": "h=0.20 mm", "o": 0.46, "v": 0.0004},
      {"s": "h=0.20 mm", "o": 0.47, "v": 0.0018},
      {"s": "h=0.20 mm", "o": 0.48, "v": 0.0004},
      {"s": "h=0.20 mm", "o": 0.49, "v": 0.0021},
      {"s": "h=0.20 mm", "o": 0.5, "v": 0.0005},
      {"s": "h=0.20 mm", "o": 0.51, "v": 0.0023},
      {"s": "h=0.20 mm", "o": 0.52, "v": 0.0005},
      {"s": "h=0.20 mm", "o": 0.53, "v": 0.0026},
      {"s": "h=0.20 mm", "o": 0.54, "v": 0.0006},
      {"s": "h=0.20 mm", "o": 0.55, "v": 0.0033},
      {"s": "h=0.20 mm", "o": 0.56, "v": 0.0007},
      {"s": "h=0.20 mm", "o": 0.57, "v": 0.0045},
      {"s": "h=0.20 mm", "o": 0.58, "v": 0.0008},
      {"s": "h=0.20 mm", "o": 0.59, "v": 0.0046},
      {"s": "h=0.20 mm", "o": 0.6, "v": 0.0008},
      {"s": "h=0.20 mm", "o": 0.61, "v": 0.0046},
      {"s": "h=0.20 mm", "o": 0.62, "v": 0.0006},
      {"s": "h=0.20 mm", "o": 0.63, "v": 0.0025},
      {"s": "h=0.20 mm", "o": 0.64, "v": 0.0005},
      {"s": "h=0.20 mm", "o": 0.65, "v": 0.0028},
      {"s": "h=0.20 mm", "o": 0.66, "v": 0.0006},
      {"s": "h=0.20 mm", "o": 0.67, "v": 0.0034},
      {"s": "h=0.20 mm", "o": 0.68, "v": 0.0007},
      {"s": "h=0.20 mm", "o": 0.69, "v": 0.0045},
      {"s": "h=0.20 mm", "o": 0.7, "v": 0.0008},
      {"s": "h=0.20 mm", "o": 0.71, "v": 0.0052},
      {"s": "h=0.20 mm", "o": 0.72, "v": 0.001},
      {"s": "h=0.20 mm", "o": 0.73, "v": 0.0054},
      {"s": "h=0.20 mm", "o": 0.735, "v": 0.001},
      {"s": "h=0.20 mm", "o": 0.74, "v": 0.0055},
      {"s": "h=0.20 mm", "o": 0.75, "v": 0.001},
      {"s": "h=0.20 mm", "o": 0.76, "v": 0.0052},
      {"s": "h=0.20 mm", "o": 0.77, "v": 0.0009},
      {"s": "h=0.20 mm", "o": 0.78, "v": 0.0045},
      {"s": "h=0.20 mm", "o": 0.79, "v": 0.0008},
      {"s": "h=0.20 mm", "o": 0.8, "v": 0.0034},
      {"s": "h=0.20 mm", "o": 0.81, "v": 0.0007},
      {"s": "h=0.20 mm", "o": 0.82, "v": 0.0032},
      {"s": "h=0.20 mm", "o": 0.83, "v": 0.0007},
      {"s": "h=0.20 mm", "o": 0.84, "v": 0.0035},
      {"s": "h=0.20 mm", "o": 0.85, "v": 0.0007},
      {"s": "h=0.20 mm", "o": 0.86, "v": 0.003},
      {"s": "h=0.20 mm", "o": 0.87, "v": 0.0006},
      {"s": "h=0.20 mm", "o": 0.88, "v": 0.0023},
      {"s": "h=0.20 mm", "o": 0.89, "v": 0.0005},
      {"s": "h=0.20 mm", "o": 0.9, "v": 0.0022},
      {"s": "h=0.20 mm", "o": 0.91, "v": 0.0005},
      {"s": "h=0.20 mm", "o": 0.92, "v": 0.0021},
      {"s": "h=0.20 mm", "o": 0.93, "v": 0.0005},
      {"s": "h=0.20 mm", "o": 0.94, "v": 0.0021},
      {"s": "h=0.20 mm", "o": 0.95, "v": 0.0006},
      {"s": "h=0.20 mm", "o": 0.96, "v": 0.0045},
      {"s": "h=0.20 mm", "o": 0.965, "v": 0.001},
      {"s": "h=0.20 mm", "o": 0.975, "v": 0.0064},
      {"s": "h=0.20 mm", "o": 0.985, "v": 0.001},
      {"s": "h=0.20 mm", "o": 1.0, "v": 0.0042},
      {"s": "h=0.20 mm", "o": 1.01, "v": 0.0008},
      {"s": "h=0.20 mm", "o": 1.02, "v": 0.003},
      {"s": "h=0.20 mm", "o": 1.03, "v": 0.0006},
      {"s": "h=0.20 mm", "o": 1.04, "v": 0.0019},
      {"s": "h=0.20 mm", "o": 1.05, "v": 0.0004},
      {"s": "h=0.20 mm", "o": 1.06, "v": 0.0016},
      {"s": "h=0.20 mm", "o": 1.07, "v": 0.0004},
      {"s": "h=0.20 mm", "o": 1.08, "v": 0.00146},
      {"s": "h=0.20 mm", "o": 1.09, "v": 0.0003},
      {"s": "h=0.20 mm", "o": 1.1, "v": 0.0011},
      {"s": "h=0.20 mm", "o": 1.11, "v": 0.0003},
      {"s": "h=0.20 mm", "o": 1.12, "v": 0.0008},
      {"s": "h=0.20 mm", "o": 1.13, "v": 0.0002},
      {"s": "h=0.20 mm", "o": 1.14, "v": 0.0006},
      {"s": "h=0.20 mm", "o": 1.15, "v": 0.0002},
      {"s": "h=0.20 mm", "o": 1.16, "v": 0.00059},
      {"s": "h=0.20 mm", "o": 1.18, "v": 0.0002},
      {"s": "h=0.20 mm", "o": 1.2, "v": 0.00055},
      {"s": "h=0.20 mm", "o": 1.22, "v": 0.00015},
      {"s": "h=0.20 mm", "o": 1.25, "v": 0.0005},
      {"s": "h=0.20 mm", "o": 1.27, "v": 0.00015},
      {"s": "h=0.20 mm", "o": 1.3, "v": 0.00047},
      {"s": "h=0.20 mm", "o": 1.32, "v": 0.00012},
      {"s": "h=0.20 mm", "o": 1.35, "v": 0.0004},
      {"s": "h=0.20 mm", "o": 1.37, "v": 0.0001},
      {"s": "h=0.20 mm", "o": 1.4, "v": 0.00035},
      {"s": "h=0.20 mm", "o": 1.45, "v": 0.0001},
      {"s": "h=0.20 mm", "o": 1.5, "v": 0.00028},
      {"s": "h=0.20 mm", "o": 1.55, "v": 0.00008},
      {"s": "h=0.20 mm", "o": 1.6, "v": 0.00025},
      {"s": "h=0.20 mm", "o": 1.65, "v": 0.00008},
      {"s": "h=0.20 mm", "o": 1.69, "v": 0.00035},
      {"s": "h=0.20 mm", "o": 1.73, "v": 0.00008},
      {"s": "h=0.20 mm", "o": 1.8, "v": 0.00022},
      {"s": "h=0.20 mm", "o": 1.85, "v": 0.00006},
      {"s": "h=0.20 mm", "o": 1.9, "v": 0.00016},
      {"s": "h=0.20 mm", "o": 1.95, "v": 0.00005},
      {"s": "h=0.20 mm", "o": 2.0, "v": 0.00013},
      {"s": "h=0.20 mm", "o": 2.05, "v": 0.00004},
      {"s": "h=0.20 mm", "o": 2.1, "v": 0.0001},
      {"s": "h=0.20 mm", "o": 2.15, "v": 0.00003},
      {"s": "h=0.20 mm", "o": 2.2, "v": 0.00008},
      {"s": "h=0.20 mm", "o": 2.25, "v": 0.00003},
      {"s": "h=0.20 mm", "o": 2.3, "v": 0.00006},
      {"s": "h=0.20 mm", "o": 2.35, "v": 0.00002},
      {"s": "h=0.20 mm", "o": 2.4, "v": 0.00004},
      {"s": "h=0.20 mm", "o": 2.45, "v": 0.00002},
      {"s": "h=0.20 mm", "o": 2.5, "v": 0.00003},

      {"s": "h=0.25 mm", "o": 0.0, "v": 0.00002},
      {"s": "h=0.25 mm", "o": 0.3, "v": 0.00005},
      {"s": "h=0.25 mm", "o": 0.355, "v": 0.0002},
      {"s": "h=0.25 mm", "o": 0.36, "v": 0.00609},
      {"s": "h=0.25 mm", "o": 0.365, "v": 0.0002},
      {"s": "h=0.25 mm", "o": 0.38, "v": 0.0002},
      {"s": "h=0.25 mm", "o": 0.4, "v": 0.00003},
      {"s": "h=0.25 mm", "o": 0.55, "v": 0.00005},
      {"s": "h=0.25 mm", "o": 0.61, "v": 0.00005},
      {"s": "h=0.25 mm", "o": 0.615, "v": 0.00078},
      {"s": "h=0.25 mm", "o": 0.62, "v": 0.00005},
      {"s": "h=0.25 mm", "o": 0.716, "v": 0.00005},
      {"s": "h=0.25 mm", "o": 0.721, "v": 0.0029},
      {"s": "h=0.25 mm", "o": 0.726, "v": 0.00005},
      {"s": "h=0.25 mm", "o": 0.9, "v": 0.00005},
      {"s": "h=0.25 mm", "o": 0.961, "v": 0.0001},
      {"s": "h=0.25 mm", "o": 0.966, "v": 0.00996},
      {"s": "h=0.25 mm", "o": 0.971, "v": 0.0001},
      {"s": "h=0.25 mm", "o": 1.082, "v": 0.00005},
      {"s": "h=0.25 mm", "o": 1.087, "v": 0.00081},
      {"s": "h=0.25 mm", "o": 1.092, "v": 0.00005},
      {"s": "h=0.25 mm", "o": 1.321, "v": 0.00005},
      {"s": "h=0.25 mm", "o": 1.324, "v": 0.0134},
      {"s": "h=0.25 mm", "o": 1.326, "v": 0.0003},
      {"s": "h=0.25 mm", "o": 1.328, "v": 0.01344},
      {"s": "h=0.25 mm", "o": 1.33, "v": 0.0004},
      {"s": "h=0.25 mm", "o": 1.331, "v": 0.0134},
      {"s": "h=0.25 mm", "o": 1.334, "v": 0.00005},
      {"s": "h=0.25 mm", "o": 1.693, "v": 0.00005},
      {"s": "h=0.25 mm", "o": 1.698, "v": 0.00143},
      {"s": "h=0.25 mm", "o": 1.703, "v": 0.00005},
      {"s": "h=0.25 mm", "o": 1.947, "v": 0.00003},
      {"s": "h=0.25 mm", "o": 1.952, "v": 0.00022},
      {"s": "h=0.25 mm", "o": 1.957, "v": 0.00003},
      {"s": "h=0.25 mm", "o": 2.307, "v": 0.00003},
      {"s": "h=0.25 mm", "o": 2.312, "v": 0.00059},
      {"s": "h=0.25 mm", "o": 2.317, "v": 0.00003},
      {"s": "h=0.25 mm", "o": 2.67, "v": 0.00003},
      {"s": "h=0.25 mm", "o": 2.675, "v": 0.00059},
      {"s": "h=0.25 mm", "o": 2.68, "v": 0.00003},
      {"s": "h=0.25 mm", "o": 2.8, "v": 0.00002}
    ]
  },
  "vconcat": [
    {
      "width": 1298,
      "height": 1005,
      "title": {"text": "(a) 时间历程曲线", "offset": 29},
      "data": {"name": "ts"},
      "mark": {"type": "line", "interpolate": "monotone"},
      "encoding": {
        "x": {
          "field": "t",
          "type": "quantitative",
          "title": "t/s",
          "scale": {"domain": [0.21494, 0.21843], "nice": false, "zero": false},
          "axis": {
            "values": [0.215, 0.2155, 0.216, 0.2165, 0.217, 0.2175, 0.218],
            "labelExpr": "abs(datum.value * 1000 - round(datum.value * 1000)) < 0.01 ? format(datum.value, '.3f') : ''"
          }
        },
        "y": {
          "field": "v",
          "type": "quantitative",
          "title": "横向振动位移/μm",
          "scale": {"domain": [-0.1017, 0.1476], "nice": false, "zero": false},
          "axis": {
            "values": [-0.1, -0.05, 0, 0.05, 0.1],
            "labelExpr": "datum.value == 0 ? '0' : format(datum.value, '.2f')",
            "titlePadding": 33
          }
        },
        "color": {
          "field": "s",
          "type": "nominal",
          "scale": {"domain": ["h=0.15 mm", "h=0.20 mm", "h=0.25 mm"], "range": ["#82B0D2", "#FFBE7A", "#FA7F6F"]},
          "legend": {"title": null, "orient": "none", "legendX": 831, "legendY": 46}
        },
        "strokeDash": {
          "field": "s",
          "type": "nominal",
          "scale": {"domain": ["h=0.15 mm", "h=0.20 mm", "h=0.25 mm"], "range": [[5, 3.5], [1, 0], [18, 6, 10, 6]]},
          "legend": {"title": null, "orient": "none", "legendX": 831, "legendY": 46}
        }
      }
    },
    {
      "width": 1298,
      "height": 1014,
      "title": {"text": "(b) 快速傅里叶变换频谱图", "offset": 56},
      "data": {"name": "fft"},
      "mark": {"type": "line", "clip": true},
      "encoding": {
        "x": {
          "field": "o",
          "type": "quantitative",
          "title": "Ω",
          "scale": {"domain": [0, 7], "nice": false},
          "axis": {
            "values": [0, 1, 2, 3, 4, 5, 6, 7],
            "format": "d",
            "titleFontStyle": "italic",
            "gridOpacity": {"condition": {"test": "datum.value == 0 || datum.value == 7", "value": 0}, "value": 1}
          }
        },
        "y": {
          "field": "v",
          "type": "quantitative",
          "title": "X",
          "scale": {"domain": [0, 0.014], "nice": false},
          "axis": {
            "values": [0.002, 0.004, 0.006, 0.008, 0.01, 0.012, 0.014],
            "format": ".3f",
            "titleFontStyle": "italic",
            "titlePadding": 43,
            "gridOpacity": {"condition": {"test": "datum.value > 0.013", "value": 0}, "value": 1}
          }
        },
        "color": {
          "field": "s",
          "type": "nominal",
          "scale": {"domain": ["h=0.15 mm", "h=0.20 mm", "h=0.25 mm"], "range": ["#82B0D2", "#FFBE7A", "#FA7F6F"]},
          "legend": {"title": null, "orient": "none", "legendX": 831, "legendY": 46}
        },
        "strokeDash": {
          "field": "s",
          "type": "nominal",
          "scale": {"domain": ["h=0.15 mm", "h=0.20 mm", "h=0.25 mm"], "range": [[5, 3.5], [1, 0], [18, 6, 10, 6]]},
          "legend": {"title": null, "orient": "none", "legendX": 831, "legendY": 46}
        }
      }
    }
  ]
}
